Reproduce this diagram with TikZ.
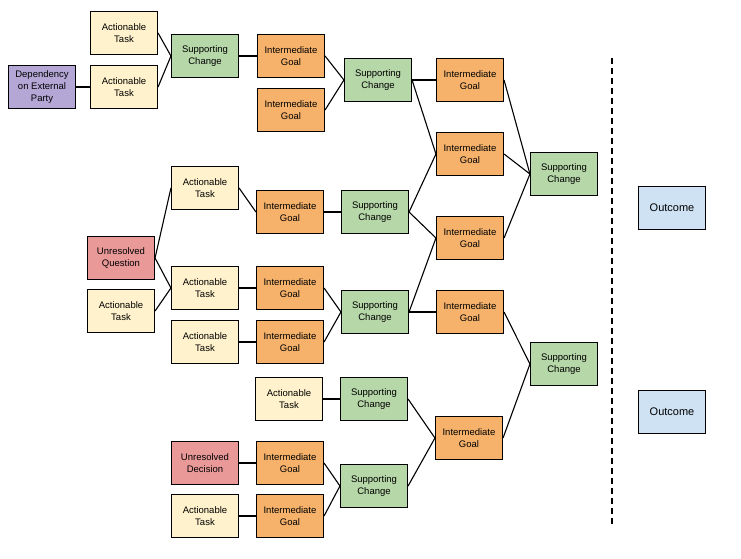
\documentclass[tikz,border=0pt]{standalone}
\usepackage{fontspec}
\setmainfont{Liberation Sans}
\begin{document}
\begin{tikzpicture}[x=1pt,y=-1pt,
 b/.style={draw=black,line width=1.1pt,minimum width=67pt,minimum height=43pt,align=center,inner sep=1pt,font=\fontsize{9.5}{12}\selectfont},
 task/.style={b,fill={rgb,255:red,255;green,242;blue,204}},
 sc/.style={b,fill={rgb,255:red,182;green,215;blue,168}},
 ig/.style={b,fill={rgb,255:red,246;green,178;blue,107}},
 pu/.style={b,fill={rgb,255:red,180;green,167;blue,214}},
 rd/.style={b,fill={rgb,255:red,234;green,153;blue,153}},
 oc/.style={b,fill={rgb,255:red,207;green,226;blue,243},font=\fontsize{11}{13}\selectfont},
 e/.style={line width=1.1pt}]
\useasboundingbox (0,0) rectangle (741,559);
\node[pu] (dep) at (42,87) {Dependency\\on External\\Party};
\node[task] (a1) at (124,33) {Actionable\\Task};
\node[task] (a2) at (124,87) {Actionable\\Task};
\node[sc] (s1) at (205,56) {Supporting\\Change};
\node[ig] (g1) at (291,56) {Intermediate\\Goal};
\node[ig] (g2) at (291,110) {Intermediate\\Goal};
\node[sc] (s2) at (378,80) {Supporting\\Change};
\node[ig] (h1) at (470,80) {Intermediate\\Goal};
\node[ig] (h2) at (470,154) {Intermediate\\Goal};
\node[ig] (h3) at (470,238) {Intermediate\\Goal};
\node[ig] (h4) at (470,312) {Intermediate\\Goal};
\node[sc] (t1) at (564,174) {Supporting\\Change};
\node[oc] (o1) at (672,208) {Outcome};
\node[rd] (uq) at (121,258) {Unresolved\\Question};
\node[task] (a3) at (205,188) {Actionable\\Task};
\node[ig] (g3) at (290,212) {Intermediate\\Goal};
\node[sc] (s3) at (375,212) {Supporting\\Change};
\node[task] (a4) at (205,288) {Actionable\\Task};
\node[task] (a5) at (121,311) {Actionable\\Task};
\node[task] (a6) at (205,342) {Actionable\\Task};
\node[ig] (g4) at (290,288) {Intermediate\\Goal};
\node[ig] (g5) at (290,342) {Intermediate\\Goal};
\node[sc] (s4) at (375,312) {Supporting\\Change};
\node[sc] (t2) at (564,364) {Supporting\\Change};
\node[oc] (o2) at (672,412) {Outcome};
\node[task] (a7) at (289,399) {Actionable\\Task};
\node[sc] (s5) at (374,399) {Supporting\\Change};
\node[ig] (h5) at (469,438) {Intermediate\\Goal};
\node[rd] (ud) at (205,463) {Unresolved\\Decision};
\node[ig] (g6) at (290,463) {Intermediate\\Goal};
\node[task] (a8) at (205,516) {Actionable\\Task};
\node[ig] (g7) at (290,516) {Intermediate\\Goal};
\node[sc] (s6) at (374,486) {Supporting\\Change};
\coordinate (d1) at (612,58); \coordinate (d2) at (612,524);
\draw[line width=1.5pt,dash pattern=on 6pt off 4pt] (d1) -- (d2);
\foreach \u/\v in {dep/a2,a1/s1,a2/s1,s1/g1,g1/s2,g2/s2,s2/h1,s2/h2,h1/t1,h2/t1,h3/t1,
 uq/a3,uq/a4,a3/g3,g3/s3,s3/h2,s3/h3,a5/a4,a4/g4,a6/g5,g4/s4,g5/s4,s4/h3,s4/h4,
 h4/t2,h5/t2,a7/s5,s5/h5,ud/g6,g6/s6,a8/g7,g7/s6,s6/h5}
 \draw[e] (\u.east) -- (\v.west);
\end{tikzpicture}
\end{document}
